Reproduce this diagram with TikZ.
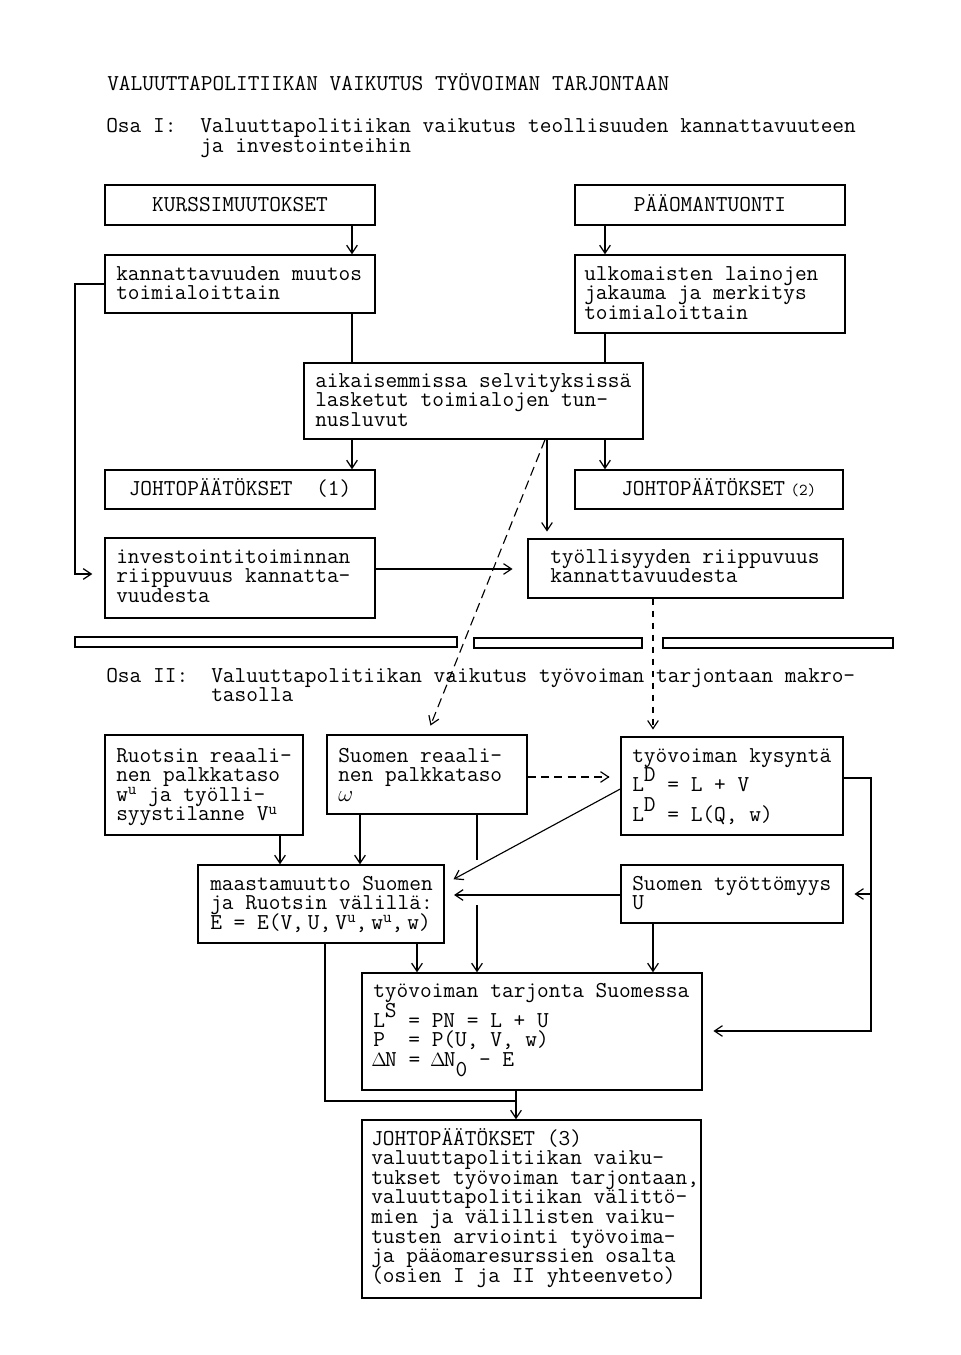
\documentclass[tikz,border=0pt]{standalone}
\usepackage{fontspec}
\usetikzlibrary{arrows.meta,fit}
\newcommand{\tf}{\ttfamily\fontsize{17.05}{14.7}\selectfont\lineskiplimit=-100pt\relax}
\newcommand{\ml}[1]{\parbox[t]{25cm}{\tf #1}}
\newcommand{\up}[1]{\raisebox{7.5pt}{#1}}
\newcommand{\su}[1]{\raisebox{5pt}{\fontsize{12.5}{12}\selectfont #1}}
\newcommand{\dn}[1]{\raisebox{-7.5pt}{#1}}
\newcommand{\Dl}{\makebox[0.525em][c]{\fontsize{15}{15}\selectfont$\Delta$}}
\begin{document}
\begin{tikzpicture}[x=0.75pt,y=-0.75pt,
  box/.style={draw, line width=1.1pt, inner sep=0pt},
  txt/.style={anchor=base west, inner sep=0pt, font=\tf},
  ctxt/.style={anchor=base, inner sep=0pt, font=\tf},
  conn/.style={line width=0.85pt},
  arr/.style={conn, -{Straight Barb[length=6pt,width=8pt,line width=0.9pt]}},
  bar/.style={draw, line width=1.3pt}]
\fill[white] (0,0) rectangle (960,1355);
\useasboundingbox (0,0) rectangle (960,1355);

% headings
\node[txt] (title) at (107,91) {VALUUTTAPOLITIIKAN VAIKUTUS TYÖVOIMAN TARJONTAAN};
\node[txt] (osa1) at (106,133) {Osa I:};
\node[txt] (osa1t) at (200,133) {\ml{Valuuttapolitiikan vaikutus teollisuuden kannattavuuteen\\ja investointeihin}};

% boxes part I
\node[box, fit={(105,185) (375,225)}] (kurs) {};
\node[box, fit={(105,255) (375,313)}] (kann) {};
\node[box, fit={(575,185) (845,225)}] (paao) {};
\node[box, fit={(575,255) (845,333)}] (ulko) {};
\node[box, fit={(304,363) (643,439)}] (aika) {};
\node[box, fit={(105,470) (375,509)}] (joh1) {};
\node[box, fit={(575,470) (843,509)}] (joh2) {};
\node[box, fit={(105,538) (375,618)}] (inve) {};
\node[box, fit={(528,539) (843,598)}] (tyol) {};

\node[ctxt] (tkurs) at (240,212) {KURSSIMUUTOKSET};
\node[ctxt] (tpaao) at (710,212) {PÄÄOMANTUONTI};
\node[txt] (tkann) at (116,280) {\ml{kannattavuuden muutos\\toimialoittain}};
\node[txt] (tulko) at (584,280) {\ml{ulkomaisten lainojen\\jakauma ja merkitys\\toimialoittain}};
\node[txt] (taika) at (315,387) {\ml{aikaisemmissa selvityksissä\\lasketut toimialojen tun-\\nusluvut}};
\node[ctxt] (tjoh1) at (240,495) {JOHTOPÄÄTÖKSET\ \ (1)};
\node[txt] (tjoh2) at (621,495) {JOHTOPÄÄTÖKSET\hspace{4pt}{\fontsize{12.5}{12}\selectfont(2)}};
\node[txt] (tinve) at (116,563) {\ml{investointitoiminnan\\riippuvuus kannatta-\\vuudesta}};
\node[txt] (ttyol) at (550,563) {\ml{työllisyyden riippuvuus\\kannattavuudesta}};

% separator bars
\draw[bar] (75,637) rectangle (457,647);
\draw[bar] (474,638) rectangle (642,648);
\draw[bar] (663,638) rectangle (893,648);

\node[txt] (osa2) at (106,682) {Osa II:};
\node[txt] (osa2t) at (211,682) {\ml{Valuuttapolitiikan vaikutus työvoiman tarjontaan makro-\\tasolla}};

% boxes part II
\node[box, fit={(105,735) (303,835)}] (ruot) {};
\node[box, fit={(327,735) (527,814)}] (suor) {};
\node[box, fit={(621,737) (843,835)}] (kysy) {};
\node[box, fit={(198,865) (444,943)}] (maas) {};
\node[box, fit={(621,865) (843,923)}] (tyot) {};
\node[box, fit={(362,973) (702,1090)}] (tarj) {};
\node[box, fit={(362,1120) (701,1298)}] (joh3) {};

\node[txt] (truot) at (116,762) {\ml{Ruotsin reaali-\\nen palkkataso\\w\su{u} ja työlli-\\syystilanne V\su{u}}};
\node[txt] (tsuor) at (338,762) {\ml{Suomen reaali-\\nen palkkataso\\$\omega$}};
\node[txt] (tkysy) at (632,762) {\ml{työvoiman kysyntä\\[7.5pt]L\up{D} = L + V\\[7.5pt]L\up{D} = L(Q, w)}};
\node[txt] (tmaas) at (210,890) {\ml{maastamuutto Suomen\\ja Ruotsin välillä:\\E = E(V,\hspace{3pt}U,\hspace{3pt}V\su{u},\hspace{3pt}w\su{u},\hspace{3pt}w)}};
\node[txt] (ttyot) at (632,890) {\ml{Suomen työttömyys\\U}};
\node[txt] (ttarj) at (373,997) {\ml{työvoiman tarjonta Suomessa\\[8pt]L\up{S} = PN = L + U\\P\ \ = P(U, V, w)\\\Dl N = \Dl N\dn{0} - E}};
\node[txt] (tjoh3) at (371,1145) {\ml{JOHTOPÄÄTÖKSET (3)\\valuuttapolitiikan vaiku-\\tukset työvoiman tarjontaan,\\valuuttapolitiikan välittö-\\mien ja välillisten vaiku-\\tusten arviointi työvoima-\\ja pääomaresurssien osalta\\(osien I ja II yhteenveto)}};

% connectors part I
\draw[arr] (352,0 |- kurs.south) -- (352,0 |- kann.north);
\draw[arr] (605,0 |- paao.south) -- (605,0 |- ulko.north);
\draw[conn] (352,0 |- kann.south) -- (352,0 |- aika.north);
\draw[conn] (605,0 |- ulko.south) -- (605,0 |- aika.north);
\draw[arr] (352,0 |- aika.south) -- (352,0 |- joh1.north);
\draw[arr] (605,0 |- aika.south) -- (605,0 |- joh2.north);
\draw[arr, shorten >=5pt] (547,0 |- aika.south) -- (547,0 |- tyol.north);
\draw[arr, shorten >=9pt] (kann.west) -- (75,0 |- kann.west) -- (75,574) -- (inve.west |- 0,574);
\draw[arr, shorten >=11pt] (inve.east |- 0,569) -- (tyol.west |- 0,569);
\draw[arr, dash pattern=on 7pt off 4pt, shorten >=7pt] (545,0 |- aika.south) -- (suor.north);
\draw[arr, dash pattern=on 5pt off 4pt, shorten >=5pt] (653,0 |- tyol.south) -- (653,0 |- kysy.north);

% connectors part II
\draw[arr, dash pattern=on 6pt off 4pt, shorten >=8pt] (suor.east |- 0,777) -- (kysy.west |- 0,777);
\draw[arr, shorten >=7.5pt] (kysy.west |- 0,789) -- (maas.east |- 0,884);
\draw[arr, shorten >=7pt] (tyot.west |- 0,895) -- (maas.east |- 0,895);
\draw[arr, shorten >=8pt] (kysy.east |- 0,778) -- (871,778) -- (871,1031) -- (tarj.east |- 0,1031);
\draw[arr, shorten >=8pt] (871,0 |- tyot.east) -- (tyot.east);
\draw[arr] (280,0 |- ruot.south) -- (280,0 |- maas.north);
\draw[arr] (360,0 |- suor.south) -- (360,0 |- maas.north);
\draw[conn] (477,0 |- suor.south) -- (477,860);
\draw[arr] (477,905) -- (477,0 |- tarj.north);
\draw[arr] (417,0 |- maas.south) -- (417,0 |- tarj.north);
\draw[arr] (653,0 |- tyot.south) -- (653,0 |- tarj.north);
\draw[arr] (516,0 |- tarj.south) -- (516,0 |- joh3.north);
\draw[conn] (325,0 |- maas.south) -- (325,1101) -- (516,1101);
\end{tikzpicture}
\end{document}
